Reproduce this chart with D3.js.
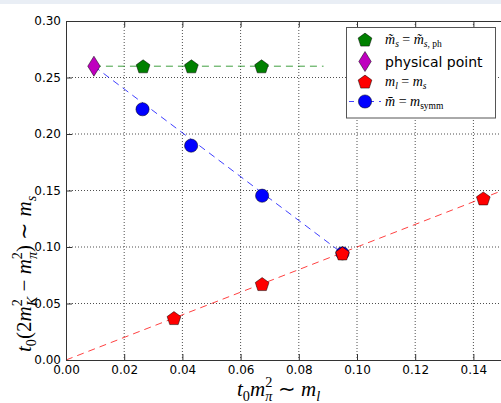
<!DOCTYPE html>
<html><head><meta charset="utf-8">
<script src="https://cdn.jsdelivr.net/npm/d3@7"></script>
<style>body{margin:0;background:#fff}svg{display:block}</style>
</head><body>
<svg id="c" width="501" height="403"></svg>
<script>
// ---- data ----
const xTicks = [0.00, 0.02, 0.04, 0.06, 0.08, 0.10, 0.12, 0.14];
const xTickLabels = ["0.00", "0.02", "0.04", "0.06", "0.08", "0.10", "0.12", "0.14"];
const yTicks = [0.00, 0.05, 0.10, 0.15, 0.20, 0.25, 0.30];
const yTickLabels = ["0.00", "0.05", "0.10", "0.15", "0.20", "0.25", "0.30"];

const greenX = [0.0265, 0.0431, 0.0672];
const greenY = [0.260, 0.260, 0.260];
const greenLineX = [0.0096, 0.0885];
const greenLineY = [0.260, 0.260];

const physX = [0.0096];
const physY = [0.260];

const redX = [0.0371, 0.0674, 0.0950, 0.1434];
const redY = [0.0372, 0.0673, 0.0944, 0.1431];
const redLineX = [0.0, 0.15];
const redLineY = [0.0, 0.15];

const blueX = [0.0263, 0.0430, 0.0674, 0.0950];
const blueY = [0.2219, 0.1897, 0.1454, 0.0944];
const blueLineX = [0.0096, 0.0950];
const blueLineY = [0.260, 0.0944];

// ---- setup ----
const W = 501, H = 403;
const L = 66, R = 502.5, T = 21, B = 360;
const svg = d3.select("#c");
const x = d3.scaleLinear().domain([0, 0.15]).range([L, R]);
const y = d3.scaleLinear().domain([0, 0.30]).range([B, T]);

svg.append("rect").attr("x", 0).attr("y", 0).attr("width", W).attr("height", 4).attr("fill", "#e9eef5");

svg.append("defs").append("clipPath").attr("id", "clip")
  .append("rect").attr("x", L).attr("y", T).attr("width", R - L).attr("height", B - T);

// grid
const grid = svg.append("g").attr("stroke", "#222").attr("stroke-width", 0.8).attr("stroke-dasharray", "1,2");
grid.selectAll(".gx").data(xTicks.filter(d => d > 0)).enter().append("line")
  .attr("x1", d => x(d)).attr("x2", d => x(d)).attr("y1", T).attr("y2", B);
grid.selectAll(".gy").data(yTicks.filter(d => d > 0 && d < 0.3)).enter().append("line")
  .attr("x1", L).attr("x2", R).attr("y1", d => y(d)).attr("y2", d => y(d));

// lines
const plot = svg.append("g").attr("clip-path", "url(#clip)");
const lineGen = d3.line().x(d => x(d[0])).y(d => y(d[1]));
function dashed(xs, ys, color) {
  plot.append("path").datum(d3.zip(xs, ys)).attr("d", lineGen)
    .attr("fill", "none").attr("stroke", color).attr("stroke-width", 1)
    .attr("stroke-opacity", 0.75).attr("stroke-dasharray", "7,5");
}
dashed(redLineX, redLineY, "#ff0000");
dashed(blueLineX, blueLineY, "#0000ff");
dashed(greenLineX, greenLineY, "#008000");

// marker shapes
function pentagon(r) {
  const pts = d3.range(5).map(k => {
    const a = -Math.PI / 2 + k * 2 * Math.PI / 5;
    return [r * Math.cos(a), r * Math.sin(a)];
  });
  return "M" + pts.map(p => p.join(",")).join("L") + "Z";
}
function diamond(w, h) {
  return `M0,${-h}L${w},0L0,${h}L${-w},0Z`;
}
function drawPent(g, cx, cy, color) {
  g.append("path").attr("d", pentagon(7.2)).attr("transform", `translate(${cx},${cy + 0.8})`)
    .attr("fill", color).attr("stroke", "#000").attr("stroke-width", 0.5);
}
function drawCirc(g, cx, cy) {
  g.append("circle").attr("cx", cx).attr("cy", cy).attr("r", 6.6)
    .attr("fill", "#0000ff").attr("stroke", "#000").attr("stroke-width", 0.5);
}
function drawDiam(g, cx, cy) {
  g.append("path").attr("d", diamond(6.2, 10)).attr("transform", `translate(${cx},${cy})`)
    .attr("fill", "#bf00bf").attr("stroke", "#000").attr("stroke-width", 0.5);
}

d3.zip(blueX, blueY).forEach(d => drawCirc(plot, x(d[0]), y(d[1])));
d3.zip(redX, redY).forEach(d => drawPent(plot, x(d[0]), y(d[1]), "#ff0000"));
d3.zip(greenX, greenY).forEach(d => drawPent(plot, x(d[0]), y(d[1]), "#008000"));
d3.zip(physX, physY).forEach(d => drawDiam(plot, x(d[0]), y(d[1])));

// axes
const spine = "#333";
const xAxis = d3.axisBottom(x).tickValues(xTicks).tickFormat((d, i) => xTickLabels[i])
  .tickSize(-6).tickSizeOuter(0).tickPadding(5);
const yAxis = d3.axisLeft(y).tickValues(yTicks).tickFormat((d, i) => yTickLabels[i])
  .tickSize(-6).tickSizeOuter(0).tickPadding(5);
const xTop = d3.axisTop(x).tickValues(xTicks).tickFormat("").tickSize(-6).tickSizeOuter(0);
function styleAxis(g) {
  g.selectAll("path,line").attr("stroke", spine);
  g.selectAll("text").attr("font-family", "DejaVu Sans").attr("font-size", 12).attr("fill", "#000");
}
svg.append("g").attr("transform", `translate(0,${B})`).call(xAxis).call(styleAxis);
svg.append("g").attr("transform", `translate(${L},0)`).call(yAxis).call(styleAxis);
svg.append("g").attr("transform", `translate(0,${T})`).call(xTop).call(styleAxis);

// math text helper
function math(parent, parts, size) {
  const t = parent.append("text").attr("font-family", "Liberation Serif").attr("font-size", size).attr("fill", "#000");
  let cur = 0;
  parts.forEach(p => {
    const shift = p.shift || 0;
    const ts = t.append("tspan").text(p.t)
      .attr("font-style", p.it ? "italic" : "normal")
      .attr("font-size", p.s ? size * p.s : size)
      .attr("dy", shift - cur);
    if (p.dx) ts.attr("dx", p.dx);
    cur = shift;
  });
  return t;
}
const sub = 0.68;

// axis labels
const xl = math(svg, [
  {t: "t", it: true}, {t: "0", s: sub, shift: 5},
  {t: "m", it: true}, {t: "2", s: sub, shift: -9}, {t: "π", it: true, s: sub, shift: 5, dx: -7},
  {t: " ∼ "}, {t: "m", it: true}, {t: "l", it: true, s: sub, shift: 5}
], 21);
xl.attr("x", 237).attr("y", 396);

const yl = math(svg, [
  {t: "t", it: true}, {t: "0", s: sub, shift: 5},
  {t: "(2"}, {t: "m", it: true}, {t: "2", s: sub, shift: -9}, {t: "K", it: true, s: sub, shift: 6, dx: -7},
  {t: " − "}, {t: "m", it: true}, {t: "2", s: sub, shift: -9}, {t: "π", it: true, s: sub, shift: 6, dx: -7},
  {t: ")"}, {t: " ∼ "}, {t: "m", it: true}, {t: "s", it: true, s: sub, shift: 5}
], 21);
yl.attr("transform", "translate(31,352) rotate(-90)").attr("x", 0).attr("y", 0);

// legend
const lg = svg.append("g");
lg.append("rect").attr("x", 346.5).attr("y", 27.5).attr("width", 149).attr("height", 90.5)
  .attr("fill", "#fff").attr("stroke", "#555").attr("stroke-width", 1);
const rows = [39.5, 61.5, 81.5, 101.5];
const mx = 365, tx = 385;
drawPent(lg, mx, rows[0], "#008000");
drawDiam(lg, mx, rows[1]);
drawPent(lg, mx, rows[2], "#ff0000");
lg.append("line").attr("x1", 349).attr("x2", 381).attr("y1", rows[3]).attr("y2", rows[3])
  .attr("stroke", "#0000ff").attr("stroke-opacity", 0.75).attr("stroke-dasharray", "5,5");
drawCirc(lg, mx, rows[3]);

const ls = 14;
math(lg, [
  {t: "m\u0303", it: true}, {t: "s", it: true, s: sub, shift: 3},
  {t: " = "}, {t: "m\u0303", it: true}, {t: "s", it: true, s: sub, shift: 3}, {t: ", ph", s: sub, shift: 3}
], ls).attr("x", tx).attr("y", rows[0] + 4);
lg.append("text").attr("x", tx).attr("y", rows[1] + 5).attr("font-family", "DejaVu Sans")
  .attr("font-size", 14).text("physical point");
math(lg, [
  {t: "m", it: true}, {t: "l", it: true, s: sub, shift: 3},
  {t: " = "}, {t: "m", it: true}, {t: "s", it: true, s: sub, shift: 3}
], ls).attr("x", tx).attr("y", rows[2] + 4);
math(lg, [
  {t: "m\u0304", it: true}, {t: " = "}, {t: "m", it: true}, {t: "symm", s: sub, shift: 3}
], ls).attr("x", tx).attr("y", rows[3] + 4);
</script>
</body></html>
